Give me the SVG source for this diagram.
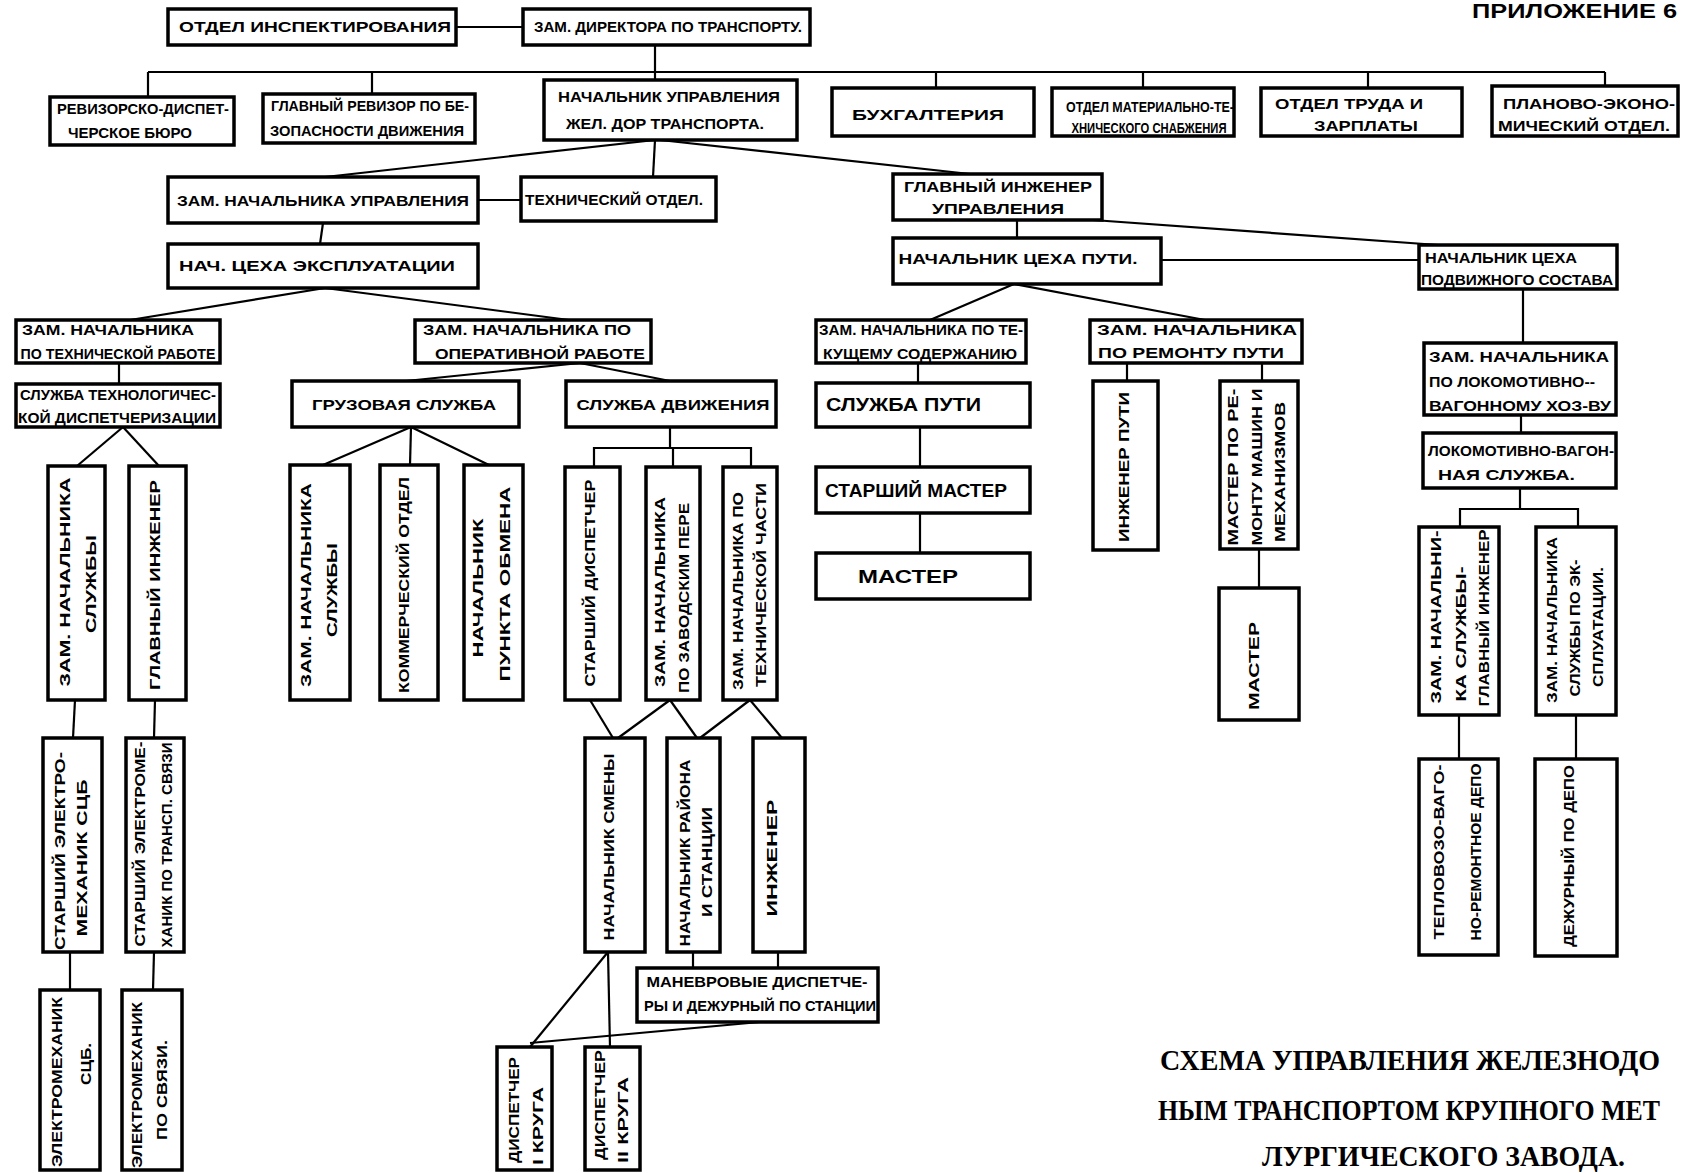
<svg xmlns="http://www.w3.org/2000/svg" width="1683" height="1173" viewBox="0 0 1683 1173">
<style>
.b{fill:#fff;stroke:#000;stroke-width:3.5}
.c line,.c polyline{stroke:#000;stroke-width:2.2;fill:none}
text{font-family:"Liberation Sans","DejaVu Sans",sans-serif;font-weight:bold;fill:#000}
.h{font-size:15px;text-anchor:middle}
.v{font-size:15px;text-anchor:middle}
.ttl{font-family:"Liberation Serif","DejaVu Serif",serif;font-size:30px}
</style>
<rect width="1683" height="1173" fill="#fff"/>

<g class="c" id="connectors">
<line x1="456" y1="27" x2="523" y2="27"/>
<line x1="655" y1="45" x2="655" y2="72"/>
<line x1="148" y1="72" x2="1605" y2="72"/>
<line x1="148" y1="72" x2="148" y2="97"/>
<line x1="372" y1="72" x2="372" y2="94"/>
<line x1="655" y1="72" x2="655" y2="80"/>
<line x1="936" y1="72" x2="936" y2="88"/>
<line x1="1143" y1="72" x2="1143" y2="88"/>
<line x1="1368" y1="72" x2="1368" y2="88"/>
<line x1="1605" y1="72" x2="1605" y2="86"/>
<line x1="655" y1="140" x2="325" y2="177"/>
<line x1="655" y1="140" x2="653" y2="177"/>
<line x1="660" y1="140" x2="970" y2="174"/>
<line x1="478" y1="200" x2="521" y2="200"/>
<line x1="323" y1="223" x2="320" y2="244"/>
<line x1="325" y1="288" x2="130" y2="320"/>
<line x1="325" y1="288" x2="569" y2="320"/>
<line x1="119" y1="363" x2="119" y2="384"/>
<line x1="580" y1="363" x2="406" y2="381"/>
<line x1="580" y1="363" x2="670" y2="381"/>
<line x1="1017" y1="220" x2="1017" y2="238"/>
<line x1="1093" y1="220" x2="1438" y2="245"/>
<line x1="1161" y1="260" x2="1419" y2="260"/>
<line x1="1014" y1="284" x2="930" y2="320"/>
<line x1="1014" y1="284" x2="1205" y2="320"/>
<line x1="1523" y1="289" x2="1523" y2="343"/>
<line x1="918" y1="363" x2="918" y2="383"/>
<line x1="1127" y1="363" x2="1127" y2="381"/>
<line x1="1262" y1="363" x2="1262" y2="381"/>
<line x1="1521" y1="415" x2="1521" y2="433"/>
<line x1="1520" y1="488" x2="1520" y2="509"/>
<polyline points="1460,527 1460,509 1578,509 1578,527"/>
<line x1="1459" y1="715" x2="1459" y2="759"/>
<line x1="1576" y1="715" x2="1576" y2="759"/>
<line x1="1259" y1="549" x2="1259" y2="588"/>
<line x1="920" y1="427" x2="920" y2="467"/>
<line x1="920" y1="513" x2="920" y2="553"/>
<line x1="123" y1="427" x2="77" y2="466"/>
<line x1="123" y1="427" x2="159" y2="466"/>
<line x1="75" y1="700" x2="73" y2="738"/>
<line x1="155" y1="700" x2="154" y2="738"/>
<line x1="70" y1="952" x2="70" y2="990"/>
<line x1="154" y1="952" x2="153" y2="990"/>
<line x1="411" y1="427" x2="323" y2="465"/>
<line x1="411" y1="427" x2="410" y2="465"/>
<line x1="411" y1="427" x2="489" y2="465"/>
<line x1="670" y1="427" x2="670" y2="448"/>
<polyline points="594,467 594,448 751,448 751,467"/>
<line x1="673" y1="448" x2="673" y2="467"/>
<line x1="590" y1="700" x2="613" y2="738"/>
<line x1="670" y1="700" x2="618" y2="738"/>
<line x1="670" y1="700" x2="697" y2="738"/>
<line x1="750" y1="700" x2="700" y2="738"/>
<line x1="750" y1="700" x2="782" y2="738"/>
<line x1="693" y1="952" x2="693" y2="968"/>
<line x1="778" y1="952" x2="778" y2="968"/>
<line x1="608" y1="952" x2="530" y2="1047"/>
<line x1="608" y1="952" x2="610" y2="1047"/>
<line x1="530" y1="1043" x2="760" y2="1022"/>
</g>

<g id="n1"><rect class="b" x="168" y="9" width="288" height="36"/><text class="h" x="315" y="32" font-size="18" textLength="272" lengthAdjust="spacingAndGlyphs">ОТДЕЛ ИНСПЕКТИРОВАНИЯ</text></g>
<g id="n2"><rect class="b" x="523" y="9" width="287" height="36"/><text class="h" x="668" y="32" font-size="18" textLength="268" lengthAdjust="spacingAndGlyphs">ЗАМ. ДИРЕКТОРА ПО ТРАНСПОРТУ.</text></g>
<g id="n3"><rect class="b" x="50" y="97" width="184" height="48"/><text class="h" x="143" y="114" textLength="172" lengthAdjust="spacingAndGlyphs">РЕВИЗОРСКО-ДИСПЕТ-</text><text class="h" x="130" y="138" textLength="124" lengthAdjust="spacingAndGlyphs">ЧЕРСКОЕ БЮРО</text></g>
<g id="n4"><rect class="b" x="263" y="94" width="212" height="49"/><text class="h" x="370" y="111" textLength="198" lengthAdjust="spacingAndGlyphs">ГЛАВНЫЙ РЕВИЗОР ПО БЕ-</text><text class="h" x="367" y="136" textLength="194" lengthAdjust="spacingAndGlyphs">ЗОПАСНОСТИ ДВИЖЕНИЯ</text></g>
<g id="n5"><rect class="b" x="544" y="80" width="253" height="60"/><text class="h" x="669" y="102" font-size="17" textLength="222" lengthAdjust="spacingAndGlyphs">НАЧАЛЬНИК УПРАВЛЕНИЯ</text><text class="h" x="665" y="129" font-size="17" textLength="198" lengthAdjust="spacingAndGlyphs">ЖЕЛ. ДОР ТРАНСПОРТА.</text></g>
<g id="n6"><rect class="b" x="832" y="88" width="202" height="48"/><text class="h" x="928" y="120" font-size="20" textLength="152" lengthAdjust="spacingAndGlyphs">БУХГАЛТЕРИЯ</text></g>
<g id="n7"><rect class="b" x="1052" y="88" width="182" height="48" stroke-width="5"/><text class="h" x="1150" y="112" font-size="14" textLength="168" lengthAdjust="spacingAndGlyphs">ОТДЕЛ МАТЕРИАЛЬНО-ТЕ-</text><text class="h" x="1149" y="133" font-size="14" textLength="155" lengthAdjust="spacingAndGlyphs">ХНИЧЕСКОГО СНАБЖЕНИЯ</text></g>
<g id="n8"><rect class="b" x="1261" y="88" width="201" height="48"/><text class="h" x="1349" y="109" font-size="16" textLength="148" lengthAdjust="spacingAndGlyphs">ОТДЕЛ ТРУДА И</text><text class="h" x="1366" y="131" font-size="16" textLength="104" lengthAdjust="spacingAndGlyphs">ЗАРПЛАТЫ</text></g>
<g id="n9"><rect class="b" x="1492" y="86" width="186" height="50"/><text class="h" x="1589" y="109" textLength="172" lengthAdjust="spacingAndGlyphs">ПЛАНОВО-ЭКОНО-</text><text class="h" x="1584" y="131" textLength="172" lengthAdjust="spacingAndGlyphs">МИЧЕСКИЙ ОТДЕЛ.</text></g>

<g id="n10"><rect class="b" x="168" y="177" width="310" height="46"/><text class="h" x="323" y="206" font-size="17" textLength="292" lengthAdjust="spacingAndGlyphs">ЗАМ. НАЧАЛЬНИКА УПРАВЛЕНИЯ</text></g>
<g id="n11"><rect class="b" x="521" y="177" width="195" height="44"/><text class="h" x="614" y="205" font-size="17" textLength="178" lengthAdjust="spacingAndGlyphs">ТЕХНИЧЕСКИЙ ОТДЕЛ.</text></g>
<g id="n12"><rect class="b" x="893" y="174" width="209" height="46"/><text class="h" x="998" y="192" textLength="188" lengthAdjust="spacingAndGlyphs">ГЛАВНЫЙ ИНЖЕНЕР</text><text class="h" x="998" y="214" textLength="132" lengthAdjust="spacingAndGlyphs">УПРАВЛЕНИЯ</text></g>
<g id="n13"><rect class="b" x="168" y="244" width="310" height="44"/><text class="h" x="317" y="271" font-size="17" textLength="276" lengthAdjust="spacingAndGlyphs">НАЧ. ЦЕХА ЭКСПЛУАТАЦИИ</text></g>
<g id="n14"><rect class="b" x="893" y="238" width="268" height="46"/><text class="h" x="1018" y="264" font-size="17" textLength="239" lengthAdjust="spacingAndGlyphs">НАЧАЛЬНИК ЦЕХА ПУТИ.</text></g>
<g id="n15"><rect class="b" x="1419" y="245" width="198" height="44"/><text class="h" x="1501" y="263" textLength="152" lengthAdjust="spacingAndGlyphs">НАЧАЛЬНИК ЦЕХА</text><text class="h" x="1517" y="285" textLength="192" lengthAdjust="spacingAndGlyphs">ПОДВИЖНОГО СОСТАВА</text></g>
<g id="n16"><rect class="b" x="16" y="320" width="204" height="43"/><text class="h" x="108" y="335" font-size="14" textLength="172" lengthAdjust="spacingAndGlyphs">ЗАМ. НАЧАЛЬНИКА</text><text class="h" x="118" y="359" font-size="14" textLength="195" lengthAdjust="spacingAndGlyphs">ПО ТЕХНИЧЕСКОЙ РАБОТЕ</text></g>
<g id="n17"><rect class="b" x="415" y="320" width="236" height="43"/><text class="h" x="527" y="335" font-size="14" textLength="208" lengthAdjust="spacingAndGlyphs">ЗАМ. НАЧАЛЬНИКА ПО</text><text class="h" x="540" y="359" font-size="14" textLength="210" lengthAdjust="spacingAndGlyphs">ОПЕРАТИВНОЙ РАБОТЕ</text></g>
<g id="n18"><rect class="b" x="816" y="320" width="210" height="43"/><text class="h" x="921" y="335" font-size="14" textLength="204" lengthAdjust="spacingAndGlyphs">ЗАМ. НАЧАЛЬНИКА ПО ТЕ-</text><text class="h" x="920" y="359" font-size="14" textLength="194" lengthAdjust="spacingAndGlyphs">КУЩЕМУ СОДЕРЖАНИЮ</text></g>
<g id="n19"><rect class="b" x="1090" y="320" width="212" height="43"/><text class="h" x="1197" y="335" font-size="14" textLength="200" lengthAdjust="spacingAndGlyphs">ЗАМ. НАЧАЛЬНИКА</text><text class="h" x="1191" y="358" font-size="14" textLength="186" lengthAdjust="spacingAndGlyphs">ПО РЕМОНТУ ПУТИ</text></g>
<g id="n20"><rect class="b" x="1424" y="343" width="192" height="72"/><text x="1429" y="362" font-size="15" textLength="180" lengthAdjust="spacingAndGlyphs">ЗАМ. НАЧАЛЬНИКА</text><text x="1429" y="387" font-size="15" textLength="166" lengthAdjust="spacingAndGlyphs">ПО ЛОКОМОТИВНО--</text><text x="1429" y="411" font-size="15" textLength="182" lengthAdjust="spacingAndGlyphs">ВАГОННОМУ ХОЗ-ВУ</text></g>
<g id="n21"><rect class="b" x="16" y="384" width="204" height="43"/><text class="h" x="118" y="400" font-size="14" textLength="196" lengthAdjust="spacingAndGlyphs">СЛУЖБА ТЕХНОЛОГИЧЕС-</text><text class="h" x="117" y="423" font-size="14" textLength="198" lengthAdjust="spacingAndGlyphs">КОЙ ДИСПЕТЧЕРИЗАЦИИ</text></g>
<g id="n22"><rect class="b" x="292" y="381" width="227" height="46"/><text class="h" x="404" y="410" font-size="18" textLength="184" lengthAdjust="spacingAndGlyphs">ГРУЗОВАЯ СЛУЖБА</text></g>
<g id="n23"><rect class="b" x="566" y="381" width="210" height="46"/><text class="h" x="673" y="410" font-size="18" textLength="193" lengthAdjust="spacingAndGlyphs">СЛУЖБА ДВИЖЕНИЯ</text></g>
<g id="n24"><rect class="b" x="816" y="383" width="214" height="44"/><text x="826" y="411" font-size="18" textLength="155" lengthAdjust="spacingAndGlyphs">СЛУЖБА  ПУТИ</text></g>
<g id="n25"><rect class="b" x="816" y="467" width="214" height="46"/><text x="825" y="497" font-size="18" textLength="182" lengthAdjust="spacingAndGlyphs">СТАРШИЙ МАСТЕР</text></g>
<g id="n26"><rect class="b" x="816" y="553" width="214" height="46"/><text x="858" y="583" font-size="19" textLength="100" lengthAdjust="spacingAndGlyphs">МАСТЕР</text></g>
<g id="n27"><rect class="b" x="1423" y="433" width="193" height="55"/><text x="1428" y="456" font-size="15" textLength="186" lengthAdjust="spacingAndGlyphs">ЛОКОМОТИВНО-ВАГОН-</text><text x="1438" y="480" font-size="15" textLength="137" lengthAdjust="spacingAndGlyphs">НАЯ СЛУЖБА.</text></g>

<g id="n28"><rect class="b" x="48" y="466" width="57" height="234"/><text class="v" transform="translate(65,582) rotate(-90)" y="5.4" textLength="209" lengthAdjust="spacingAndGlyphs">ЗАМ. НАЧАЛЬНИКА</text><text class="v" transform="translate(91,584) rotate(-90)" y="5.4" textLength="98" lengthAdjust="spacingAndGlyphs">СЛУЖБЫ</text></g>
<g id="n29"><rect class="b" x="129" y="466" width="57" height="234"/><text class="v" transform="translate(155,585) rotate(-90)" y="5.4" textLength="210" lengthAdjust="spacingAndGlyphs">ГЛАВНЫЙ ИНЖЕНЕР</text></g>
<g id="n30"><rect class="b" x="43" y="738" width="59" height="214"/><text class="v" transform="translate(60,851) rotate(-90)" y="5.4" textLength="198" lengthAdjust="spacingAndGlyphs">СТАРШИЙ ЭЛЕКТРО-</text><text class="v" transform="translate(82,858) rotate(-90)" y="5.4" textLength="157" lengthAdjust="spacingAndGlyphs">МЕХАНИК СЦБ</text></g>
<g id="n31"><rect class="b" x="126" y="738" width="58" height="214"/><text class="v" transform="translate(140,844) rotate(-90)" y="5" font-size="14" textLength="205" lengthAdjust="spacingAndGlyphs">СТАРШИЙ ЭЛЕКТРОМЕ-</text><text class="v" transform="translate(167,845) rotate(-90)" y="5" font-size="14" textLength="205" lengthAdjust="spacingAndGlyphs">ХАНИК ПО ТРАНСП. СВЯЗИ</text></g>
<g id="n32"><rect class="b" x="40" y="990" width="60" height="180"/><text class="v" transform="translate(57,1082) rotate(-90)" y="5.4" textLength="170" lengthAdjust="spacingAndGlyphs">ЭЛЕКТРОМЕХАНИК</text><text class="v" transform="translate(86,1064) rotate(-90)" y="5.4" textLength="42" lengthAdjust="spacingAndGlyphs">СЦБ.</text></g>
<g id="n33"><rect class="b" x="122" y="990" width="60" height="180"/><text class="v" transform="translate(137,1085) rotate(-90)" y="5.4" textLength="166" lengthAdjust="spacingAndGlyphs">ЭЛЕКТРОМЕХАНИК</text><text class="v" transform="translate(162,1090) rotate(-90)" y="5.4" textLength="100" lengthAdjust="spacingAndGlyphs">ПО СВЯЗИ.</text></g>
<g id="n34"><rect class="b" x="290" y="465" width="60" height="235"/><text class="v" transform="translate(306,585) rotate(-90)" y="5.4" textLength="204" lengthAdjust="spacingAndGlyphs">ЗАМ. НАЧАЛЬНИКА</text><text class="v" transform="translate(332,590) rotate(-90)" y="5.4" textLength="94" lengthAdjust="spacingAndGlyphs">СЛУЖБЫ</text></g>
<g id="n35"><rect class="b" x="380" y="465" width="58" height="235"/><text class="v" transform="translate(404,585) rotate(-90)" y="5.4" textLength="216" lengthAdjust="spacingAndGlyphs">КОММЕРЧЕСКИЙ ОТДЕЛ</text></g>
<g id="n36"><rect class="b" x="464" y="465" width="59" height="235"/><text class="v" transform="translate(478,588) rotate(-90)" y="5.4" textLength="139" lengthAdjust="spacingAndGlyphs">НАЧАЛЬНИК</text><text class="v" transform="translate(505,584) rotate(-90)" y="5.4" textLength="195" lengthAdjust="spacingAndGlyphs">ПУНКТА ОБМЕНА</text></g>
<g id="n37"><rect class="b" x="565" y="467" width="55" height="233"/><text class="v" transform="translate(590,583) rotate(-90)" y="5.4" textLength="207" lengthAdjust="spacingAndGlyphs">СТАРШИЙ ДИСПЕТЧЕР</text></g>
<g id="n38"><rect class="b" x="646" y="467" width="54" height="233"/><text class="v" transform="translate(660,592) rotate(-90)" y="5" font-size="14" textLength="190" lengthAdjust="spacingAndGlyphs">ЗАМ. НАЧАЛЬНИКА</text><text class="v" transform="translate(684,598) rotate(-90)" y="5" font-size="14" textLength="190" lengthAdjust="spacingAndGlyphs">ПО ЗАВОДСКИМ ПЕРЕ</text></g>
<g id="n39"><rect class="b" x="723" y="467" width="54" height="233"/><text class="v" transform="translate(738,591) rotate(-90)" y="5" font-size="14" textLength="198" lengthAdjust="spacingAndGlyphs">ЗАМ. НАЧАЛЬНИКА ПО</text><text class="v" transform="translate(761,585) rotate(-90)" y="5" font-size="14" textLength="204" lengthAdjust="spacingAndGlyphs">ТЕХНИЧЕСКОЙ ЧАСТИ</text></g>
<g id="n40"><rect class="b" x="585" y="738" width="60" height="214"/><text class="v" transform="translate(609,847) rotate(-90)" y="5.4" textLength="187" lengthAdjust="spacingAndGlyphs">НАЧАЛЬНИК СМЕНЫ</text></g>
<g id="n41"><rect class="b" x="667" y="738" width="53" height="214"/><text class="v" transform="translate(685,853) rotate(-90)" y="5" font-size="14" textLength="187" lengthAdjust="spacingAndGlyphs">НАЧАЛЬНИК РАЙОНА</text><text class="v" transform="translate(707,862) rotate(-90)" y="5" font-size="14" textLength="110" lengthAdjust="spacingAndGlyphs">И СТАНЦИИ</text></g>
<g id="n42"><rect class="b" x="753" y="738" width="52" height="214"/><text class="v" transform="translate(772,858) rotate(-90)" y="5.4" textLength="117" lengthAdjust="spacingAndGlyphs">ИНЖЕНЕР</text></g>
<g id="n43"><rect class="b" x="637" y="968" width="241" height="54"/><text class="h" x="757" y="987" textLength="221" lengthAdjust="spacingAndGlyphs">МАНЕВРОВЫЕ ДИСПЕТЧЕ-</text><text class="h" x="760" y="1011" textLength="232" lengthAdjust="spacingAndGlyphs">РЫ И ДЕЖУРНЫЙ ПО СТАНЦИИ</text></g>
<g id="n44"><rect class="b" x="497" y="1047" width="55" height="123"/><text class="v" transform="translate(514,1110) rotate(-90)" y="5" font-size="14" textLength="106" lengthAdjust="spacingAndGlyphs">ДИСПЕТЧЕР</text><text class="v" transform="translate(538,1126) rotate(-90)" y="5" font-size="14" textLength="78" lengthAdjust="spacingAndGlyphs">I КРУГА</text></g>
<g id="n45"><rect class="b" x="585" y="1047" width="55" height="123"/><text class="v" transform="translate(600,1105) rotate(-90)" y="5" font-size="14" textLength="110" lengthAdjust="spacingAndGlyphs">ДИСПЕТЧЕР</text><text class="v" transform="translate(623,1120) rotate(-90)" y="5" font-size="14" textLength="86" lengthAdjust="spacingAndGlyphs">II КРУГА</text></g>
<g id="n46"><rect class="b" x="1093" y="381" width="65" height="169"/><text class="v" transform="translate(1124,467) rotate(-90)" y="5.4" textLength="150" lengthAdjust="spacingAndGlyphs">ИНЖЕНЕР ПУТИ</text></g>
<g id="n47"><rect class="b" x="1220" y="381" width="78" height="168"/><text class="v" transform="translate(1233,467) rotate(-90)" y="5" font-size="14" textLength="157" lengthAdjust="spacingAndGlyphs">МАСТЕР ПО РЕ-</text><text class="v" transform="translate(1257,467) rotate(-90)" y="5" font-size="14" textLength="157" lengthAdjust="spacingAndGlyphs">МОНТУ МАШИН И</text><text class="v" transform="translate(1280,472) rotate(-90)" y="5" font-size="14" textLength="140" lengthAdjust="spacingAndGlyphs">МЕХАНИЗМОВ</text></g>
<g id="n48"><rect class="b" x="1219" y="588" width="80" height="132"/><text class="v" transform="translate(1252,666) rotate(-90)" y="6.5" font-size="18" textLength="88" lengthAdjust="spacingAndGlyphs">МАСТЕР</text></g>
<g id="n49"><rect class="b" x="1419" y="527" width="80" height="188"/><text class="v" transform="translate(1436,617) rotate(-90)" y="5" font-size="14" textLength="173" lengthAdjust="spacingAndGlyphs">ЗАМ. НАЧАЛЬНИ-</text><text class="v" transform="translate(1461,634) rotate(-90)" y="5" font-size="14" textLength="135" lengthAdjust="spacingAndGlyphs">КА СЛУЖБЫ-</text><text class="v" transform="translate(1484,618) rotate(-90)" y="5" font-size="14" textLength="177" lengthAdjust="spacingAndGlyphs">ГЛАВНЫЙ ИНЖЕНЕР</text></g>
<g id="n50"><rect class="b" x="1536" y="527" width="80" height="188"/><text class="v" transform="translate(1552,620) rotate(-90)" y="5" font-size="14" textLength="166" lengthAdjust="spacingAndGlyphs">ЗАМ. НАЧАЛЬНИКА</text><text class="v" transform="translate(1575,628) rotate(-90)" y="5" font-size="14" textLength="137" lengthAdjust="spacingAndGlyphs">СЛУЖБЫ ПО ЭК-</text><text class="v" transform="translate(1598,627) rotate(-90)" y="5" font-size="14" textLength="120" lengthAdjust="spacingAndGlyphs">СПЛУАТАЦИИ.</text></g>
<g id="n51"><rect class="b" x="1419" y="759" width="79" height="196"/><text class="v" transform="translate(1439,852) rotate(-90)" y="5.4" textLength="175" lengthAdjust="spacingAndGlyphs">ТЕПЛОВОЗО-ВАГО-</text><text class="v" transform="translate(1476,852) rotate(-90)" y="5.4" textLength="177" lengthAdjust="spacingAndGlyphs">НО-РЕМОНТНОЕ ДЕПО</text></g>
<g id="n52"><rect class="b" x="1535" y="759" width="82" height="197"/><text class="v" transform="translate(1569,856) rotate(-90)" y="5.4" textLength="182" lengthAdjust="spacingAndGlyphs">ДЕЖУРНЫЙ ПО ДЕПО</text></g>

<g id="labels">
<text x="1472" y="18" font-size="20" textLength="205" lengthAdjust="spacingAndGlyphs">ПРИЛОЖЕНИЕ 6</text>
<text class="ttl" x="1160" y="1070" textLength="500" lengthAdjust="spacingAndGlyphs">СХЕМА УПРАВЛЕНИЯ ЖЕЛЕЗНОДО</text>
<text class="ttl" x="1158" y="1120" textLength="502" lengthAdjust="spacingAndGlyphs">НЫМ ТРАНСПОРТОМ КРУПНОГО МЕТ</text>
<text class="ttl" x="1262" y="1166" textLength="363" lengthAdjust="spacingAndGlyphs">ЛУРГИЧЕСКОГО ЗАВОДА.</text>
</g>
</svg>
